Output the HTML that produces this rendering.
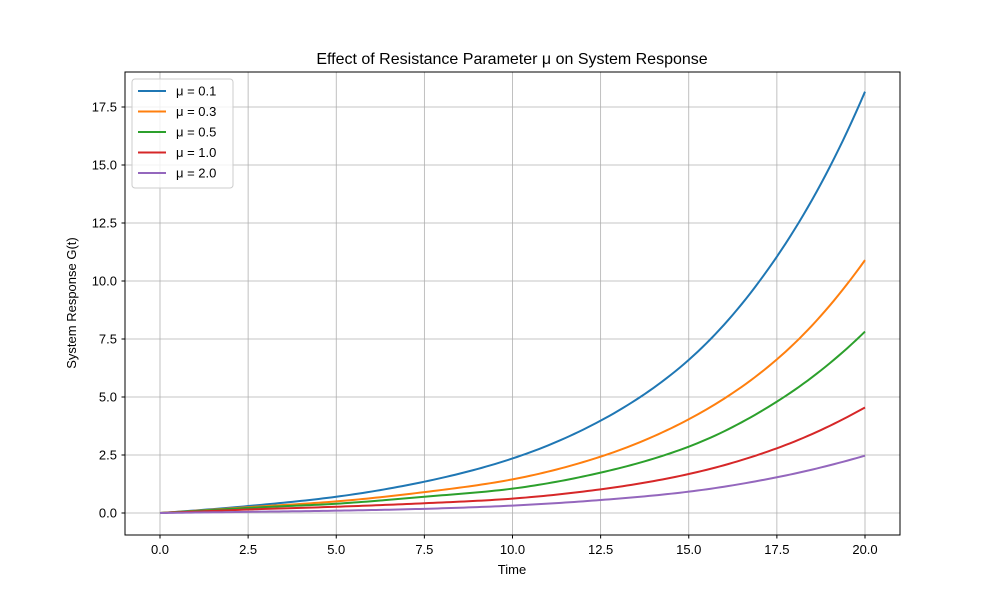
<!DOCTYPE html>
<html><head><meta charset="utf-8"><style>
body{margin:0;background:#fff;font-family:"Liberation Sans","DejaVu Sans",sans-serif}
</style></head><body>
<svg id="chart" width="1000" height="600" xmlns="http://www.w3.org/2000/svg">
<rect width="1000" height="600" fill="#fff"/>
<g id="grid"></g>
<g id="lines"></g>
<rect x="125" y="72" width="775" height="463" fill="none" stroke="#000" stroke-width="1"/>
<g id="ticks" font-size="13" fill="#000"></g>
<text x="512" y="64" text-anchor="middle" font-size="16">Effect of Resistance Parameter μ on System Response</text>
<text x="512" y="574" text-anchor="middle" font-size="13">Time</text>
<text transform="translate(76,303) rotate(-90)" text-anchor="middle" font-size="13">System Response G(t)</text>
<g id="legend"></g>
</svg>
<script>
const times=[0,2.5,5,7.5,10,12.5,15,17.5,20];
const labels=["μ = 0.1","μ = 0.3","μ = 0.5","μ = 1.0","μ = 2.0"];
const colors=["#1f77b4","#ff7f0e","#2ca02c","#d62728","#9467bd"];
const s01=[0,0.3,0.7,1.35,2.35,3.98,6.6,11.05,18.16];
const s03=[0,0.25,0.5,0.9,1.45,2.43,4.04,6.62,10.9];
const s05=[0,0.22,0.4,0.7,1.05,1.74,2.86,4.8,7.82];
const s10=[0,0.15,0.27,0.42,0.62,1.02,1.68,2.79,4.55];
const s20=[0,0.05,0.1,0.18,0.32,0.56,0.92,1.54,2.47];
const series=[s01,s03,s05,s10,s20];
const xTicks=[0,2.5,5,7.5,10,12.5,15,17.5,20];
const yTicks=[0,2.5,5,7.5,10,12.5,15,17.5];
const X=v=>160+v*35.25;
const Y=v=>513-v*23.2;
const NS="http://www.w3.org/2000/svg";
function mk(tag,attrs,parent){const e=document.createElementNS(NS,tag);for(const k in attrs)e.setAttribute(k,attrs[k]);parent.appendChild(e);return e;}
const grid=document.getElementById('grid'),ticks=document.getElementById('ticks');
xTicks.forEach(t=>{
 const g=mk('line',{x1:X(t),x2:X(t),y1:72,y2:535,stroke:'#b0b0b0','stroke-width':0.8},grid);
 
 
 mk('line',{x1:X(t),x2:X(t),y1:535,y2:538.5,stroke:'#000'},ticks);
 const l=mk('text',{x:X(t),y:554,'text-anchor':'middle'},ticks);l.textContent=t.toFixed(1);
 
 
});
yTicks.forEach(t=>{
 const g=mk('line',{x1:125,x2:900,y1:Y(t),y2:Y(t),stroke:'#b0b0b0','stroke-width':0.8},grid);
 
 
 mk('line',{x1:121.5,x2:125,y1:Y(t),y2:Y(t),stroke:'#000'},ticks);
 const l=mk('text',{x:117,y:Y(t)+4.5,'text-anchor':'end'},ticks);l.textContent=t.toFixed(1);
 
 
});
// smooth curve: Catmull-Rom spline in ln(v+1) space, sampled densely
function pathFor(vals){
 const L=vals.map(v=>Math.log(v+1));
 const n=L.length;
 const get=i=>i<0?2*L[0]-L[1]:(i>=n?2*L[n-1]-L[n-2]:L[i]);
 let pts=[];
 for(let i=0;i<n-1;i++){
  const p0=get(i-1),p1=get(i),p2=get(i+1),p3=get(i+2);
  for(let k=0;k<20;k++){
   const u=k/20;
   const v=0.5*((2*p1)+(-p0+p2)*u+(2*p0-5*p1+4*p2-p3)*u*u+(-p0+3*p1-3*p2+p3)*u*u*u);
   const t=times[i]+(times[i+1]-times[i])*u;
   pts.push([X(t),Y(Math.exp(v)-1)]);
  }
 }
 pts.push([X(times[n-1]),Y(vals[n-1])]);
 return 'M'+pts.map(p=>p[0].toFixed(2)+','+p[1].toFixed(2)).join(' L');
}
const lines=document.getElementById('lines');
series.forEach((s,i)=>{
 const e=mk('path',{d:pathFor(s),fill:'none',stroke:colors[i],'stroke-width':2,'stroke-linejoin':'round'},lines);
 
 
});
const lg=document.getElementById('legend');
const box=mk('rect',{x:132,y:79,width:101,height:109,rx:3,fill:'#fff','fill-opacity':0.8,stroke:'#ccc'},lg);


labels.forEach((lab,i)=>{
 const y=91+i*20.5;
 mk('line',{x1:138,x2:166,y1:y,y2:y,stroke:colors[i],'stroke-width':2},lg);
 const t=mk('text',{x:176,y:y+4.5,'font-size':13},lg);t.textContent=lab;
 
 
});
</script>
</body></html>
